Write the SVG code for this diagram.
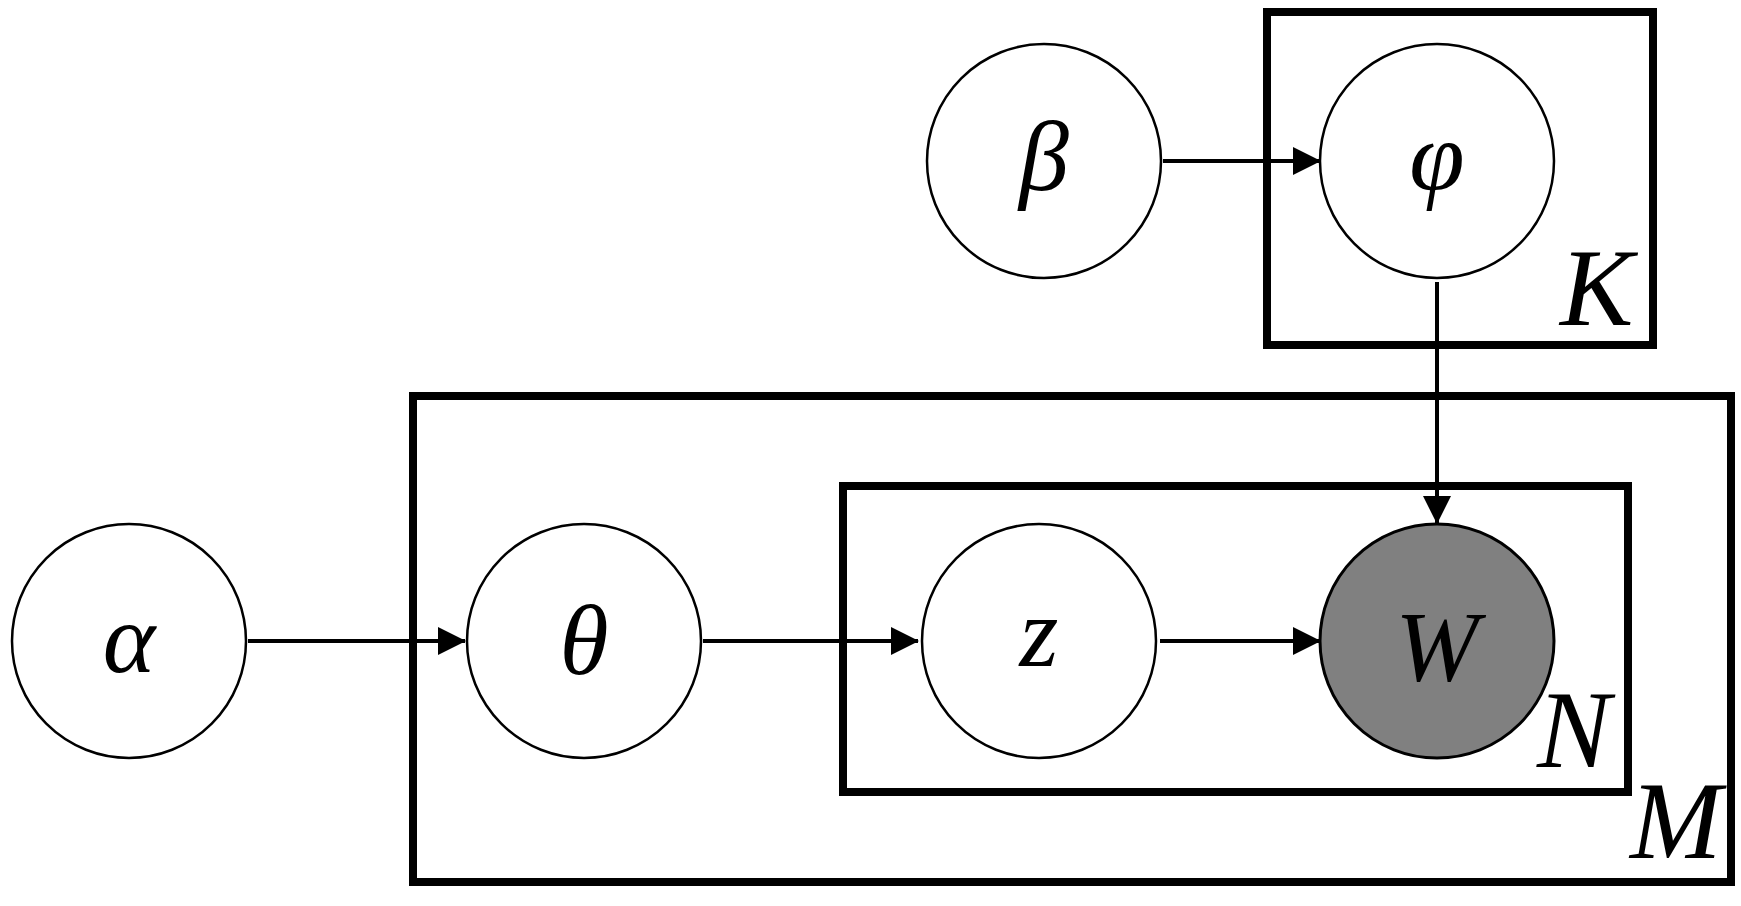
<svg xmlns="http://www.w3.org/2000/svg" width="1741" height="906" viewBox="0 0 1741 906">
<style>
.n{fill:#fff;stroke:#000;stroke-width:2.5}
.o{fill:#808080;stroke:#000;stroke-width:3}
.p{fill:none;stroke:#000;stroke-width:8}
.t{font-family:"Liberation Serif",serif;font-style:italic;font-size:100px;text-anchor:middle}
.l{font-family:"Liberation Serif",serif;font-style:italic;font-size:110px}
.e{stroke:#000;stroke-width:4;fill:none;marker-end:url(#a)}
</style>
<defs><marker id="a" markerUnits="userSpaceOnUse" markerWidth="28" markerHeight="28" refX="27" refY="14" orient="auto"><path d="M0,0L28,14L0,28Z"/></marker></defs>
<rect width="1741" height="906" fill="#fff"/>
<g id="plates">
<rect class="p" x="1267" y="12" width="386" height="333"/>
<rect class="p" x="413" y="396" width="1318" height="486"/>
<rect class="p" x="843" y="486" width="785" height="306"/>
<text class="l" x="1560" y="325">K</text>
<text class="l" x="1537" y="767">N</text>
<text class="l" x="1630" y="858">M</text>
</g>
<g id="connectors">
<line class="e" x1="248" y1="641" x2="465" y2="641"/>
<line class="e" x1="703" y1="641" x2="918" y2="641"/>
<line class="e" x1="1160" y1="641" x2="1320" y2="641"/>
<line class="e" x1="1163" y1="161" x2="1320" y2="161"/>
<line class="e" x1="1437" y1="282" x2="1437" y2="523"/>
</g>
<g id="alpha"><circle class="n" cx="129" cy="641" r="117"/><text class="t" x="129" y="672">α</text></g>
<g id="theta"><circle class="n" cx="584" cy="641" r="117"/><text class="t" x="584" y="674">θ</text></g>
<g id="z"><circle class="n" cx="1039" cy="641" r="117"/><text class="t" x="1039" y="666">z</text></g>
<g id="w"><circle class="o" cx="1437" cy="641" r="117"/><text class="t" x="1437" y="680">W</text></g>
<g id="beta"><circle class="n" cx="1044" cy="161" r="117"/><text class="t" x="1044" y="190">β</text></g>
<g id="phi"><circle class="n" cx="1437" cy="161" r="117"/><text class="t" x="1437" y="190">φ</text></g>
</svg>
